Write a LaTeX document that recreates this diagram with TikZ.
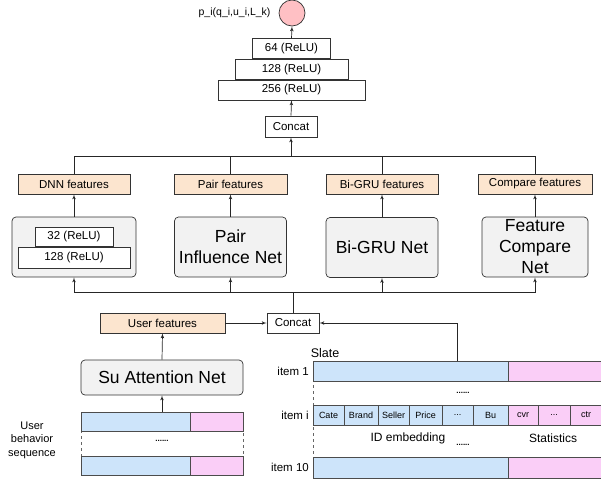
\documentclass[tikz,border=0pt]{standalone}
\usepackage{fontspec}
\setmainfont{Liberation Sans}
\usepackage{tikz}
\usetikzlibrary{positioning, arrows}
\definecolor{featorange}{RGB}{252,229,207}
\definecolor{netgray}{RGB}{242,242,242}
\definecolor{embblue}{RGB}{205,228,250}
\definecolor{statpink}{RGB}{250,206,247}
\definecolor{outred}{RGB}{255,192,196}
\tikzset{>=latex',
wire/.style={draw=black!85, line width=0.7pt},
layer/.style={draw=black!80, line width=0.7pt, fill=white, minimum height=20, inner sep=0pt,
  font=\fontsize{11.5}{13}\selectfont},
feat/.style={layer, fill=featorange, minimum width=113},
net/.style={draw=black!80, line width=0.7pt, rounded corners=4pt, fill=netgray, minimum height=60,
  inner sep=0pt, align=center, font=\fontsize{17.5}{21}\selectfont},
idcell/.style={draw=black!70, line width=0.5pt, fill=embblue, minimum height=20, inner sep=0pt,
  font=\fontsize{9}{10}\selectfont},
statcell/.style={idcell, fill=statpink},
row/.style={draw=black!70, line width=0.5pt},
lbl/.style={inner sep=0pt, font=\fontsize{11.5}{13.5}\selectfont}}
\newcommand{\celldots}{.{}.{}.}

\begin{document}
\begin{tikzpicture}[x=1pt,y=-1pt]
\useasboundingbox (0,0) rectangle (601,483);
% output and top tower
\node[circle, draw=black!80, line width=0.7pt, fill=outred, minimum size=26, inner sep=0pt] (out) at (292,13) {};
\node[lbl, left=8pt of out, font=\fontsize{10.5}{12}\selectfont] (prob) {p\_i(q\_i,u\_i,L\_k)};
\node[layer, minimum width=147] (relu256) at (291.5,90) {256 (ReLU)};
\node[layer, minimum width=113, above=0pt of relu256] (relu128) {128 (ReLU)};
\node[layer, minimum width=78, above=0pt of relu128] (relu64) {64 (ReLU)};
\node[layer, minimum width=52, minimum height=21] (concat) at (291,126.5) {Concat};
\draw[wire, ->] (relu64.north) -- (out.south);
\draw[wire, ->] (concat.north) -- (relu256.south);

% feature boxes
\node[feat, minimum width=112] (dnnf) at (74,184) {DNN features};
\node[feat] (pairf) at (230.5,184) {Pair features};
\node[feat, minimum width=112] (grusf) at (382,184) {Bi-GRU features};
\node[feat, minimum width=114] (cmpf) at (535,184) {Compare features};

% nets
\node[net, minimum width=124] (dnnnet) at (74,247) {};
\node[layer, minimum width=112, minimum height=21] (relu128b) at (74,257.5) {128 (ReLU)};
\node[layer, minimum width=78, minimum height=19, above=0pt of relu128b] (relu32) {32 (ReLU)};
\node[net, minimum width=112] (pairnet) at (230.5,247) {Pair\\Influence Net};
\node[net, minimum width=112] (grunet) at (382,247.5) {Bi-GRU Net};
\node[net, minimum width=106] (cmpnet) at (535,247) {Feature\\Compare\\Net};

\foreach \n/\f in {dnnnet/dnnf, pairnet/pairf, grunet/grusf, cmpnet/cmpf}
  \draw[wire, ->] (\n.north) -- (\f.south);

\coordinate (topbus) at (291,156);
\draw[wire] (dnnf.north) |- (topbus);
\draw[wire] (cmpf.north) |- (topbus);
\draw[wire] (pairf.north) -- (pairf.north |- topbus);
\draw[wire] (grusf.north) -- (grusf.north |- topbus);
\draw[wire, ->] (topbus) -- (concat.south);

% user side
\node[layer, minimum width=52] (ucat) at (293,323) {Concat};
\node[feat, minimum width=125] (userf) at (162.5,323) {User features};
\node[net, minimum width=162, minimum height=35] (su) at (162,377.5) {Su Attention Net};
\draw[wire, ->] (userf.east) -- (ucat.west);
\draw[wire, ->] (su.north) -- (userf.south);

\coordinate (lowbus) at (293,292);
\draw[wire] (ucat.north) -- (lowbus);
\draw[wire, ->] (lowbus) -| (dnnnet.south);
\draw[wire, ->] (lowbus) -| (cmpnet.south);
\draw[wire, ->] (pairnet.south |- lowbus) -- (pairnet.south);
\draw[wire, ->] (grunet.south |- lowbus) -- (grunet.south);

% user behavior sequence
\draw[row, dashed, draw=black!60] (81,412) rectangle (243,475);
\draw[row, fill=embblue] (81,412) rectangle (190,431);
\draw[row, fill=statpink] (190,412) rectangle (243,431);
\draw[row, fill=embblue] (81,456) rectangle (190,475);
\draw[row, fill=statpink] (190,456) rectangle (243,475);
\node[lbl, font=\bfseries\fontsize{8}{9}\selectfont] (seqdots) at (162,441) {......};
\coordinate (seqtop) at (162,412);
\draw[wire, ->] (seqtop) -- (su.south);
\node[lbl, align=center, font=\fontsize{11}{13.5}\selectfont] (seqlbl) at (32,440) {User\\behavior\\sequence};

% slate
\draw[row, dashed, draw=black!60] (313,361) -- (313,478);
\draw[row, dashed, draw=black!60] (313,361) -- (508,361);
\draw[row, fill=embblue] (313,361) rectangle (508,381);
\draw[row, fill=statpink] (508,361) rectangle (612,381);
\draw[row, fill=embblue] (313,457) rectangle (508,478);
\draw[row, fill=statpink] (508,457) rectangle (612,478);
\foreach \txt/\xa/\xb [count=\k] in {Cate/313/344, Brand/344/378, Seller/378/409,
    Price/409/442, \celldots/442/473, Bu/473/508}
  \node[idcell, minimum width=\xb-\xa] (id\k) at ({(\xa+\xb)/2},415) {\txt};
\foreach \txt/\xa/\xb [count=\k] in {cvr/508/538, \celldots/538/570, ctr/570/602}
  \node[statcell, minimum width=\xb-\xa] (st\k) at ({(\xa+\xb)/2},415) {\txt};

\node[lbl, font=\fontsize{12.5}{14}\selectfont] (slate) at (325,353) {Slate};
\node[lbl, anchor=east] (item1) at (309,371) {item 1};
\node[lbl, anchor=east] (itemi) at (309,415) {item i};
\node[lbl, anchor=east] (item10) at (309,467.5) {item 10};
\node[lbl, font=\fontsize{12}{14}\selectfont] (idemb) at (408,438) {ID embedding};
\node[lbl, font=\fontsize{12}{14}\selectfont] (stats) at (553,438) {Statistics};
\node[lbl, font=\bfseries\fontsize{8}{9}\selectfont] (dotsa) at (463,393) {......};
\node[lbl, font=\bfseries\fontsize{8}{9}\selectfont] (dotsb) at (463,445) {......};

\coordinate (slatetop) at (457,361);
\draw[wire, ->] (slatetop) |- (ucat.east);
\end{tikzpicture}
\end{document}
